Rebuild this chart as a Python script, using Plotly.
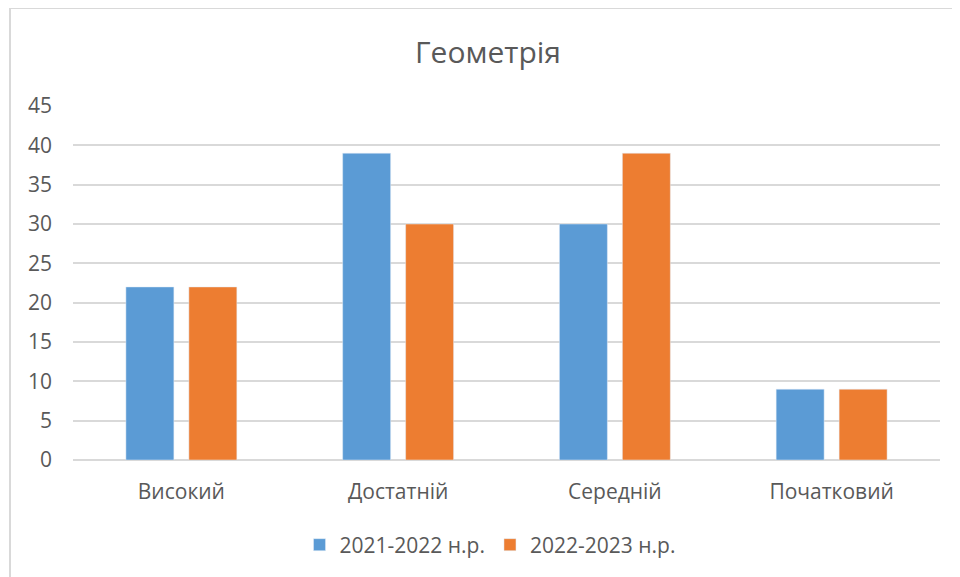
import plotly.graph_objects as go

categories = ["Високий", "Достатній", "Середній", "Початковий"]
series_2021 = [22, 39, 30, 9]
series_2022 = [22, 30, 39, 9]
name_2021 = "2021-2022 н.р."
name_2022 = "2022-2023 н.р."
title_text = "Геометрія"
y_ticks = [0, 5, 10, 15, 20, 25, 30, 35, 40, 45]

FONT = "Open Sans"
TXT = "#595959"
GRID = "#D9D9D9"

fig = go.Figure()
fig.add_trace(go.Bar(x=categories, y=series_2021, name=name_2021, marker_color="#5B9BD5"))
fig.add_trace(go.Bar(x=categories, y=series_2022, name=name_2022, marker_color="#ED7D31"))

# page body has an 8px margin; figure is sized/positioned to compensate
OFF = 8
W, H = 960 - OFF, 577 - OFF
L, R, T, B = 73 - OFF, 20, 106 - OFF, 117
pw = W - L - R
ph = H - T - B
y0px = H - B  # pixel row of the zero line within figure

fig.update_layout(
    width=W, height=H,
    margin=dict(l=L, r=R, t=T, b=B, autoexpand=False),
    paper_bgcolor="white", plot_bgcolor="white",
    barmode="group", bargap=0.419, bargroupgap=0.238,
    title=dict(text=title_text, x=(488 - OFF) / W, xanchor="center", y=1 - (52 - OFF) / H, yanchor="middle",
               font=dict(family=FONT, size=30, color=TXT)),
    font=dict(family=FONT, size=21, color=TXT),
    legend=dict(orientation="h", x=0.481, xanchor="center", y=(y0px - (545 - OFF)) / ph, yanchor="middle",
                font=dict(family=FONT, size=21, color=TXT), traceorder="normal"),
    showlegend=True,
)
fig.update_yaxes(range=[0, 45], tickvals=y_ticks, showgrid=True, gridcolor=GRID, gridwidth=1.5,
                 zeroline=True, zerolinecolor=GRID, zerolinewidth=1.5, showline=False,
                 ticks="", ticklabelstandoff=20, tickfont=dict(size=21, color=TXT), fixedrange=True)
fig.update_xaxes(showgrid=False, showline=False, ticks="", ticklabelstandoff=17,
                 tickfont=dict(size=21, color=TXT))

# outer chart border (cropped at right/bottom)
fig.add_shape(type="rect", xref="paper", yref="paper",
              x0=(2 - L) / pw, x1=(W + 20 - L) / pw,
              y0=(y0px - (H + 30)) / ph, y1=(y0px - 0) / ph,
              line=dict(color=GRID, width=2), fillcolor="rgba(0,0,0,0)", layer="below")

fig.write_html("out.html")
